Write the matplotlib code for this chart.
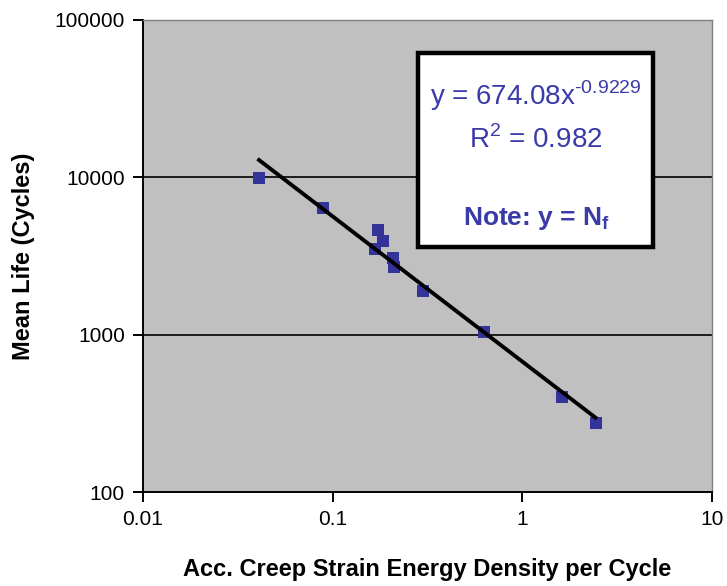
import matplotlib
matplotlib.use('Agg')
import matplotlib.pyplot as plt
from matplotlib.patches import Rectangle
import numpy as np

# --- data
energy = [0.0409, 0.0889, 0.174, 0.1835, 0.167, 0.209, 0.2106, 0.300, 0.628, 1.612, 2.445]
life = [9900, 6380, 4625, 3940, 3504, 3085, 2704, 1895, 1035, 403, 273]

# power-law trendline shown on the chart: y = a * x^b
fit_a = 674.08
fit_b = -0.9229
fit_r2 = 0.982
fit_range = [0.0409, 2.43]

plt.rcParams['font.family'] = ['Liberation Sans', 'DejaVu Sans']
plt.rcParams['mathtext.fontset'] = 'custom'
plt.rcParams['mathtext.rm'] = 'Liberation Sans'
plt.rcParams['mathtext.bf'] = 'Liberation Sans:bold'
plt.rcParams['axes.unicode_minus'] = False

fig = plt.figure(figsize=(7.27, 5.86), dpi=100)
ax = fig.add_axes([0.1967, 0.1604, 0.7827, 0.8055])
ax.set_facecolor('#c0c0c0')

ax.set_xscale('log')
ax.set_yscale('log')
ax.set_xlim(0.01, 10)
ax.set_ylim(100, 100000)

# grid lines at the inner decades only
for yv in [1000, 10000]:
    ax.axhline(yv, color='black', lw=1.2, zorder=1)

fx = np.array(fit_range)
fy = fit_a*fx**fit_b
ax.plot(energy, life, 's', color='#333399', markersize=8, markeredgewidth=0, zorder=3)
ax.plot(fx, fy, '-', color='black', lw=2.8, zorder=4)

ax.set_xticks([0.01, 0.1, 1, 10])
ax.set_xticklabels(['0.01', '0.1', '1', '10'])
ax.set_yticks([100, 1000, 10000, 100000])
ax.set_yticklabels(['100', '1000', '10000', '100000'])
ax.minorticks_off()
ax.tick_params(axis='both', direction='out', length=7, width=1.4, labelsize=15, pad=6)

for s in ['top', 'right']:
    ax.spines[s].set_color('#808080')
    ax.spines[s].set_linewidth(1.0)
for s in ['left', 'bottom']:
    ax.spines[s].set_color('black')
    ax.spines[s].set_linewidth(1.4)

ax.set_xlabel('Acc. Creep Strain Energy Density per Cycle', fontsize=17, fontweight='bold')
ax.set_ylabel('Mean Life (Cycles)', fontsize=17, fontweight='bold')
ax.xaxis.set_label_coords(0.5, -0.140)
ax.yaxis.set_label_coords(-0.190, 0.5)

# equation box
ax.add_patch(Rectangle((0.4833, 0.519), 0.413, 0.411, transform=ax.transAxes,
                       facecolor='white', edgecolor='black', lw=3.2, zorder=5))
tc = '#3a3aa8'
ax.text(0.6907, 0.820, 'y = %.2fx$^{\\text{%.4f}}$' % (fit_a, fit_b), transform=ax.transAxes,
        ha='center', va='baseline', fontsize=20, color=tc, zorder=6)
ax.text(0.6907, 0.7288, 'R$^{\\mathregular{2}}$ = %.3f' % fit_r2, transform=ax.transAxes,
        ha='center', va='baseline', fontsize=20, color=tc, zorder=6)
ax.text(0.6907, 0.5657, 'Note: y = N$_{\\mathbf{f}}$', transform=ax.transAxes,
        ha='center', va='baseline', fontsize=19, fontweight='bold', color=tc, zorder=6)

plt.savefig('out.png', dpi=100)
plt.close('all')
